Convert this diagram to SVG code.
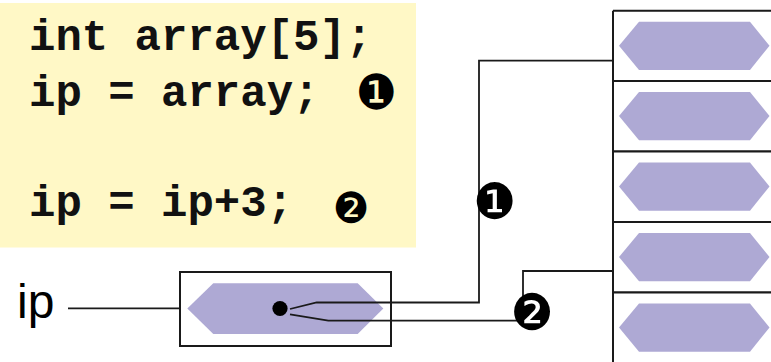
<svg xmlns="http://www.w3.org/2000/svg" width="771" height="362" viewBox="0 0 771 362">
<style>
.code{font-family:"Liberation Mono","Courier New",monospace;font-weight:bold;font-size:44px;fill:#111}
.dig{font-family:"DejaVu Sans",sans-serif;fill:#000;text-anchor:middle}
.box{fill:#fff;stroke:#1a1a1a;stroke-width:2}
.hex{fill:#aea9d4}
.ln{fill:none;stroke:#1a1a1a;stroke-width:1.8}
.lbl{font-family:"Liberation Sans",Arial,sans-serif;font-size:48px;fill:#000}
</style>
<rect width="771" height="362" fill="#fff"/>
<g id="code">
<rect x="0" y="3" width="416" height="244.5" fill="#fff8c6"/>
<text class="code" x="29" y="50">int array[5];</text>
<text class="code" x="29" y="106">ip = array;</text>
<text class="dig" transform="translate(376,108.5) scale(1,1.05)" font-size="46">❶</text>
<text class="code" x="29" y="216">ip = ip+3;</text>
<text class="dig" transform="translate(351,222.5) scale(1,1.05)" font-size="41">❷</text>
</g>
<g id="array">
<g id="cell0"><path class="box" d="M613,10.7 H800 V81"/><polygon class="hex" points="619,45.7 639,21.7 750,21.7 769.5,45.7 750,70 639,70"/></g>
<g id="cell1"><path class="box" d="M613,81 H800 V151.5 H613 Z"/><polygon class="hex" points="619,116 639,92 750,92 769.5,116 750,140.3 639,140.3"/></g>
<g id="cell2"><path class="box" d="M613,151.5 H800 V222 H613 Z"/><polygon class="hex" points="619,186.5 639,162.5 750,162.5 769.5,186.5 750,210.8 639,210.8"/></g>
<g id="cell3"><path class="box" d="M613,222 H800 V292.5 H613 Z"/><polygon class="hex" points="619,257 639,233 750,233 769.5,257 750,281.3 639,281.3"/></g>
<g id="cell4"><path class="box" d="M613,292.5 H800 V380 H613 Z"/><polygon class="hex" points="619,327.5 639,303.5 750,303.5 769.5,327.5 750,351.8 639,351.8"/></g>
<path class="box" d="M613,10.7 V380" fill="none"/>
</g>
<g id="ip">
<text class="lbl" x="17" y="318">ip</text>
<rect class="box" x="180" y="272" width="211" height="74"/>
<polygon class="hex" points="187.3,308.5 213.3,283.3 357.7,283.3 383.3,308.5 357.7,334 213.3,334"/>
<circle cx="280" cy="308.5" r="7.6" fill="#000"/>
</g>
<g id="connectors">
<path class="ln" d="M68,308.3 H180"/>
<path class="ln" d="M290,309 L316.7,302.5 H479 V60.7 H613"/>
<path class="ln" d="M290,314.3 L328.3,320.7 H517"/>
<path class="ln" d="M523,297 V271 H613"/>
<text class="dig" transform="translate(494.5,219) scale(1,1.05)" font-size="48">❶</text>
<text class="dig" transform="translate(532,329.5) scale(1,1.05)" font-size="48">❷</text>
</g>
</svg>
